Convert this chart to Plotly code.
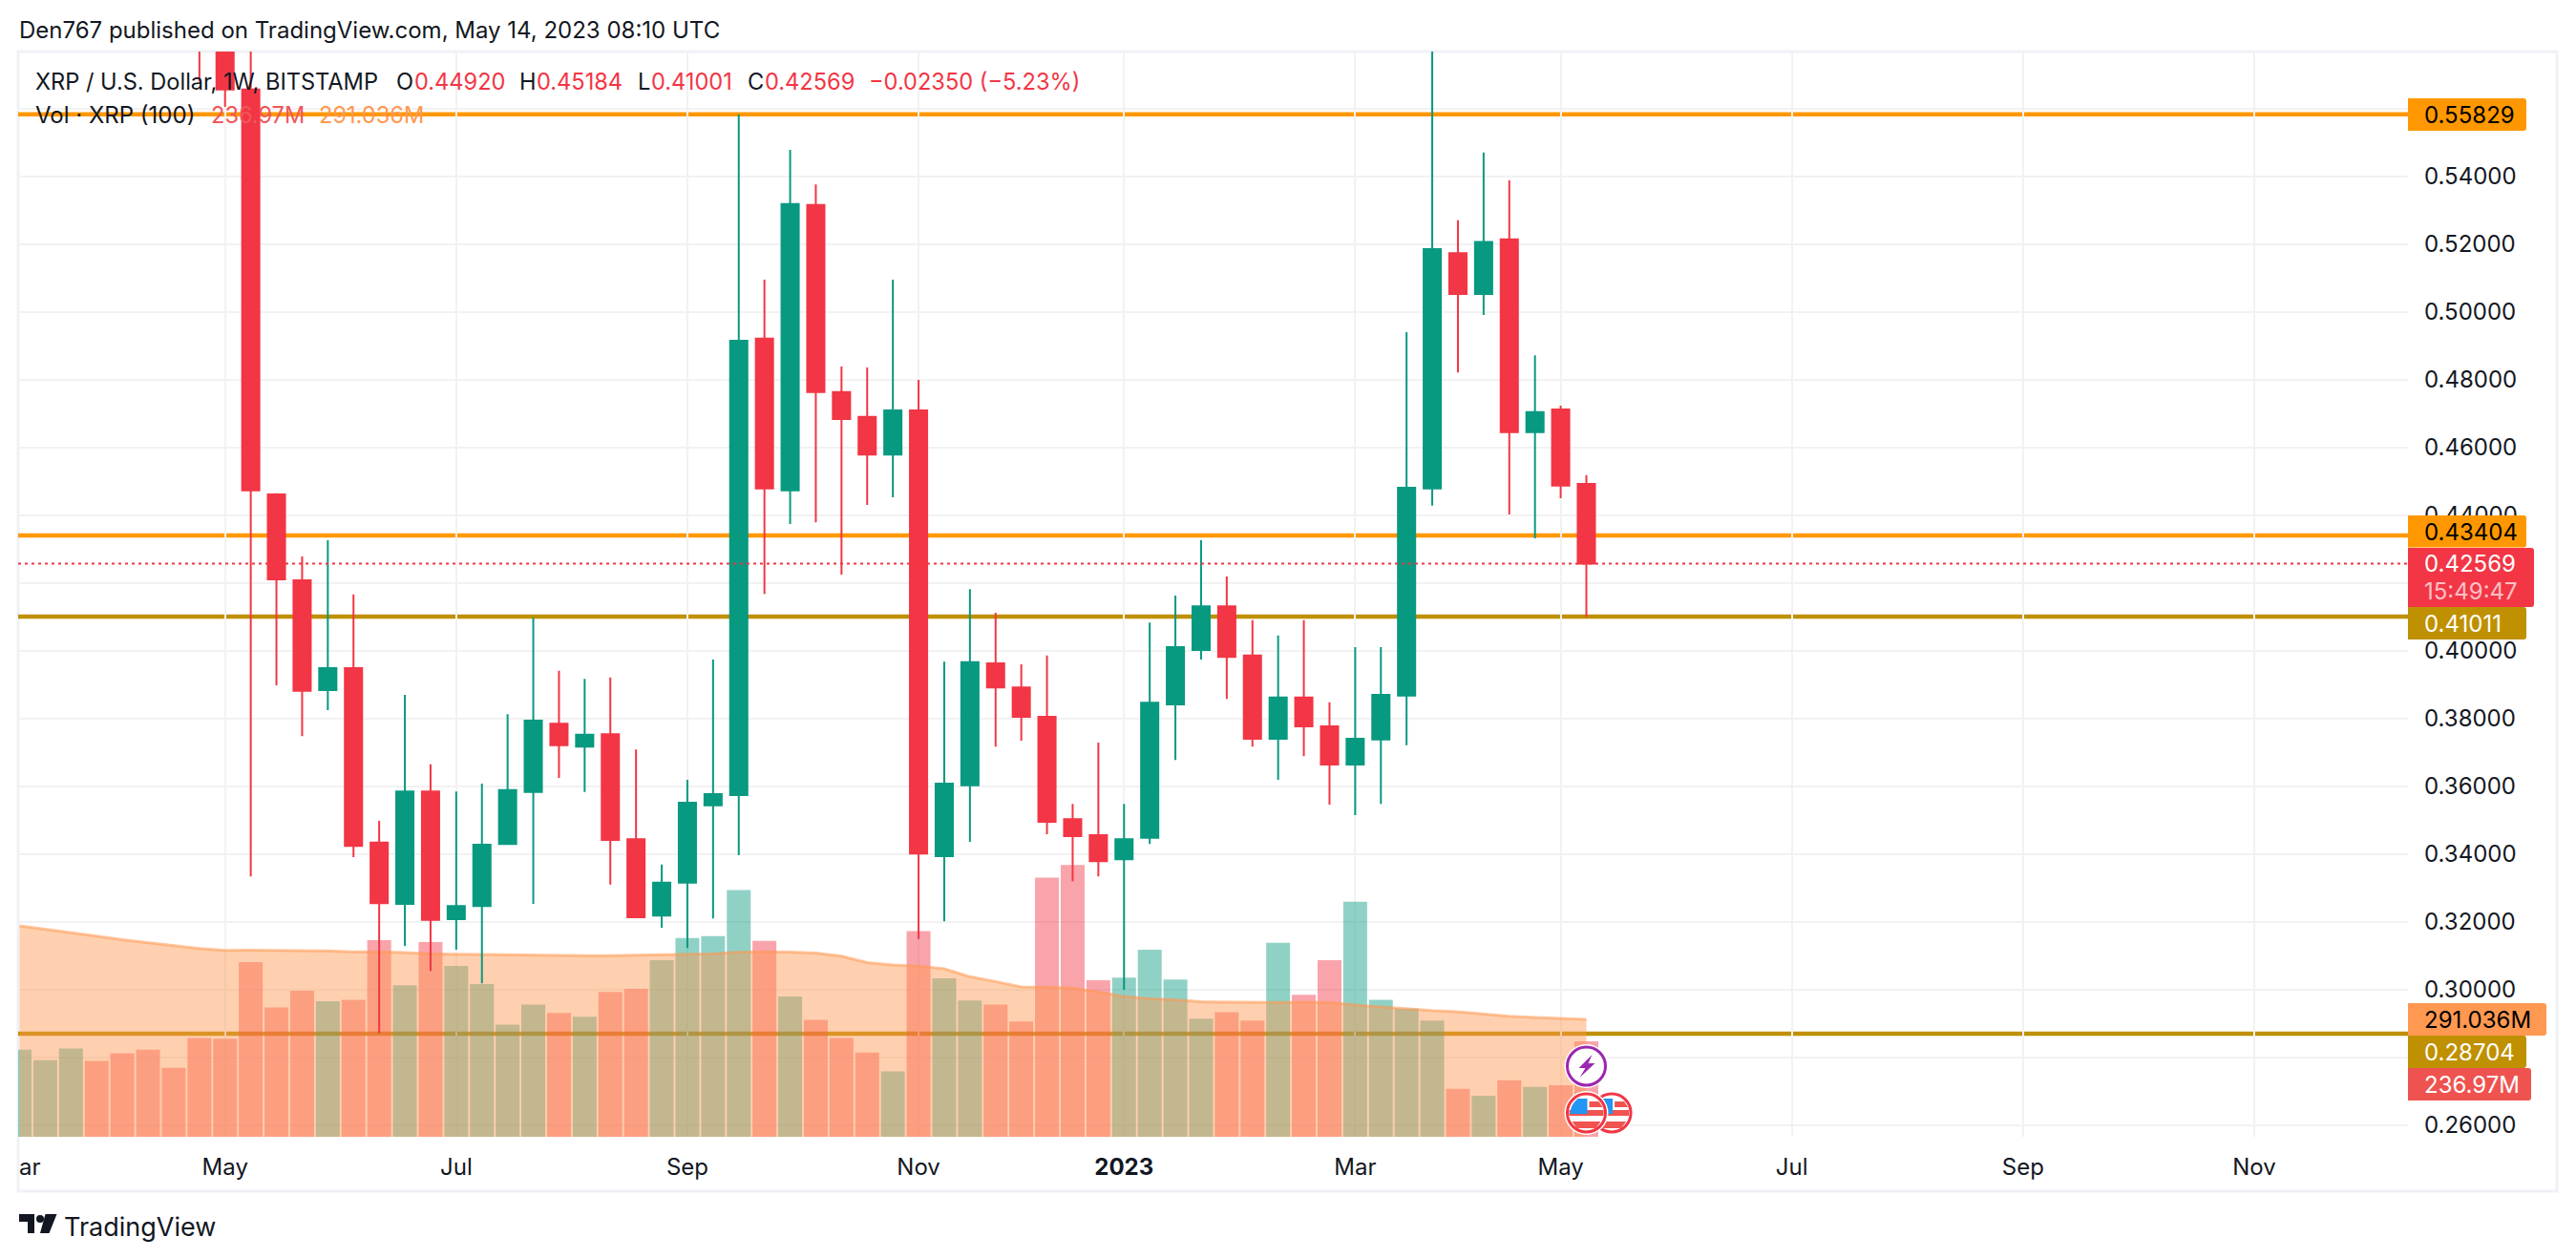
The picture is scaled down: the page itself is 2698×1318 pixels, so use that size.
import pandas as pd
import plotly.graph_objects as go

# ---------- data ----------
opens  = [.64,.62,.5656,.4461,.4208,.3884,.3949,.3434,.3253,.3585,.3208,.3247,.3430,.3583,.3785,.3717,.3754,.3444,.3219,.3316,.3544,.3574,.4921,.4473,.5315,.4763,.4690,.4579,.4709,.3394,.3603,.3963,.3892,.3805,.3503,.3456,.3385,.3448,.3842,.4002,.4131,.3986,.3740,.3862,.3777,.3664,.3738,.3868,.4479,.5173,.5053,.5214,.4645,.4712,.44920]
highs  = [.66,.65,.60,.4465,.4278,.4326,.4166,.3498,.3870,.3665,.3585,.3608,.3813,.4097,.3941,.3917,.3921,.3709,.3369,.3619,.3974,.5583,.5095,.5478,.5376,.4839,.4836,.5095,.4799,.3968,.4182,.4112,.3960,.3986,.3548,.3729,.3548,.4083,.4163,.4326,.4219,.4090,.4045,.4090,.3848,.4011,.4011,.4940,.5848,.5270,.5470,.5388,.4872,.4723,.45184]
lows   = [.568,.5605,.3334,.3898,.3748,.3825,.3391,.2871,.3129,.3055,.3118,.3019,.3428,.3253,.3625,.3583,.3310,.3214,.3183,.3123,.3210,.3397,.4168,.4374,.4379,.4225,.4430,.4453,.3150,.3202,.3436,.3717,.3735,.3459,.3320,.3334,.3000,.3430,.3678,.3974,.3858,.3717,.3619,.3689,.3546,.3515,.3548,.3721,.4428,.4821,.4991,.4402,.4332,.4450,.41001]
closes = [.62,.5656,.4473,.4211,.3882,.3949,.3424,.3255,.3585,.3206,.3247,.3428,.3589,.3794,.3721,.3752,.3442,.3214,.3316,.3552,.3577,.4915,.4479,.5318,.4763,.4684,.4579,.4709,.3402,.3608,.3966,.3892,.3805,.3495,.3453,.3379,.3444,.3847,.4011,.4131,.3982,.3740,.3862,.3777,.3664,.3740,.3870,.4481,.5185,.5053,.5206,.4645,.4704,.4487,.42569]
candle_start = "2022-04-25"

volumes = [216,190,219,188,207,216,171,245,243,433,321,362,336,340,488,376,483,424,379,278,328,307,298,359,367,438,493,498,612,486,348,290,245,209,162,510,393,338,328,286,643,674,388,395,464,390,293,309,288,481,352,438,583,340,318,288,119,102,140,124,128,236.97]
vol_dirs = list("uuud" "dddd" "ddddu" "ddud" "uuuu" "duddu" "uuud" "udddu" "duud" "dddd" "uuuud" "dudd" "uuuu" "dudu" "dd")
vol_ma = [523,515,506,498,489,482,474,467,462,463,462,462,461,459,459,457,454,453,452,451,451,450,449,449,450,451,453,454,458,459,458,456,448,432,426,423,417,397,385,372,371,369,359,348,343,340,335,334,333,333,334,333,327,322,317,313,310,305,299,296,294,291.036]
vol_start = "2022-03-07"

level_orange = [0.55829, 0.43404]
level_gold = [0.41011, 0.28704]
last_price = 0.42569
price_ticks = [.26,.28,.30,.32,.34,.36,.38,.40,.42,.44,.46,.48,.50,.52,.54,.56]
price_tick_labels = ["0.26000","0.28000","0.30000","0.32000","0.34000","0.36000","0.38000","0.40000","","0.44000","0.46000","0.48000","0.50000","0.52000","0.54000",""]
price_tick_labels[1] = ""
month_ticks = ["2022-05-02","2022-07-04","2022-09-05","2022-11-07","2023-01-02","2023-03-06","2023-05-01","2023-07-03","2023-09-04","2023-11-06"]
month_labels = ["May","Jul","Sep","Nov","<b>2023</b>","Mar","May","Jul","Sep","Nov"]

# ---------- style ----------
UP, DOWN = "#089981", "#F23645"
ORANGE, GOLD = "#FF9800", "#BF9000"
MAC = "#FF9850"
INK = "#131722"
GRID = "#F2F2F3"
FONT = "Inter"
W, H = 2698, 1318
L, R, T, B = 19, 2522, 54, 1191
X0, X1 = "2022-03-06 14:30", "2023-12-17 22:00"
def px(x): return (x - L) / (R - L)
def py(y): return (B - y) / (B - T)

cd = pd.date_range(candle_start, periods=len(opens), freq="7D")
vd = pd.date_range(vol_start, periods=len(volumes), freq="7D")
vc = ["rgba(8,153,129,0.45)" if d == "u" else "rgba(242,54,69,0.45)" for d in vol_dirs]

fig = go.Figure()
fig.add_bar(x=vd, y=volumes, marker_color=vc, marker_line_width=0, yaxis="y", xaxis="x", showlegend=False)
fig.add_scatter(x=vd, y=vol_ma, mode="lines", line=dict(color="rgba(255,152,80,0.55)", width=3), fill="tozeroy",
                fillcolor="rgba(255,152,80,0.46)", yaxis="y", xaxis="x", showlegend=False)
fig.add_candlestick(x=cd, open=opens, high=highs, low=lows, close=closes, yaxis="y2", xaxis="x", showlegend=False,
                    increasing=dict(line=dict(color=UP, width=2), fillcolor=UP),
                    decreasing=dict(line=dict(color=DOWN, width=2), fillcolor=DOWN), whiskerwidth=0)

shapes, ann = [], []
def txt(x, y, s, color=INK, size=24, anchor="left"):
    ann.append(dict(xref="paper", yref="paper", x=px(x), y=py(y), text=s, showarrow=False, xanchor=anchor, yanchor="middle",
                    font=dict(family=FONT, size=size, color=color), borderpad=0))

# frame
shapes.append(dict(type="rect", xref="paper", yref="paper", x0=px(L), x1=px(2678), y0=py(T), y1=py(1248),
                   line=dict(color="#F0F1F6", width=3), layer="below"))
# levels, below the volume pane and the candles
for v in level_orange:
    shapes.append(dict(type="line", xref="x", yref="y2", x0=X0, x1=X1, y0=v, y1=v, line=dict(color=ORANGE, width=4.5), layer="below"))
for v in level_gold:
    shapes.append(dict(type="line", xref="x", yref="y2", x0=X0, x1=X1, y0=v, y1=v, line=dict(color=GOLD, width=4.5), layer="below"))
shapes.append(dict(type="line", xref="x", yref="y2", x0=X0, x1=X1, y0=last_price, y1=last_price,
                   line=dict(color=DOWN, width=2, dash="3px,4px"), layer="above"))

def label(top, bottom, width, color):
    r = 3
    h = bottom - top
    p = f"M0 0 L{width-r} 0 Q{width} 0 {width} {r} L{width} {h-r} Q{width} {h} {width-r} {h} L0 {h} Z"
    shapes.append(dict(type="path", xref="paper", yref="paper", xsizemode="pixel", ysizemode="pixel",
                       xanchor=1, yanchor=py(bottom), path=p, fillcolor=color, line_width=0, layer="above"))

label(103, 137, 124, ORANGE);     txt(2538, 120, f"{level_orange[0]:.5f}", "#000000")
label(540, 573.5, 124, ORANGE);   txt(2538, 557, f"{level_orange[1]:.5f}", "#000000")
label(574, 636, 132, DOWN);       txt(2538, 590, f"{last_price:.5f}", "#FFFFFF"); txt(2538, 619, "15:49:47", "rgba(255,255,255,0.7)")
label(636, 670, 124, GOLD);       txt(2538, 653, f"{level_gold[0]:.5f}", "#FFFFFF")
label(1051, 1085, 145, MAC);      txt(2538, 1068, f"{vol_ma[-1]:.3f}M", "#000000")
label(1085, 1119, 124, GOLD);     txt(2538, 1102, f"{level_gold[1]:.5f}", "#FFFFFF")
label(1119, 1153, 129, "#EF5350"); txt(2538, 1136, f"{volumes[-1]:.2f}M", "#FFFFFF")

# event badges at the last bar
def badge(date, yc, ring, kind):
    base = dict(xref="x", yref="paper", xsizemode="pixel", ysizemode="pixel", xanchor=date, yanchor=py(yc), layer="above")
    shapes.append(dict(type="circle", x0=-23, x1=23, y0=-23, y1=23, fillcolor="#FFFFFF", line_width=0, **base))
    shapes.append(dict(type="circle", x0=-20, x1=20, y0=-20, y1=20, fillcolor="#FFFFFF", line=dict(color=ring, width=3), **base))
    if kind == "bolt":
        shapes.append(dict(type="path", path="M6 12 L-8 -2 L-1 -2 L-7 -12 L9 3 L2 3 Z", fillcolor=ring, line_width=0, **base))
    else:
        shapes.append(dict(type="path", path="M3 12 L13 12 L17 6 L3 6 Z M-18 3 L18 3 L18 -3 L-18 -3 Z M-15 -9 L15 -9 L10 -16 L-10 -16 Z", fillcolor="#F05350", line_width=0, **base))
        shapes.append(dict(type="path", path="M-17 -1 L1 -1 L1 15 L-9 15 Q-17 8 -17 -1 Z", fillcolor="#2196F3", line_width=0, **base))
last = str(cd[-1].date())
badge("2023-05-14 22:00", 1166, DOWN, "flag")
badge(last, 1166, DOWN, "flag")
badge(last, 1117, "#9C27B0", "bolt")

# logo
def poly(p, color=INK):
    return dict(type="path", xref="paper", yref="paper", xsizemode="pixel", ysizemode="pixel", xanchor=px(20), yanchor=py(1292), path=p, fillcolor=color, line_width=0, layer="above")
shapes.append(poly("M0 20 L16 20 L16 0 L9 0 L9 12 L0 12 Z"))
shapes.append(poly("M22 0 L31.5 0 L39.5 20 L27.5 20 Z"))
shapes.append(dict(type="circle", xref="paper", yref="paper", xsizemode="pixel", ysizemode="pixel", xanchor=px(42), yanchor=py(1277), x0=-4, x1=4, y0=-4, y1=4, fillcolor=INK, line_width=0, layer="above"))
txt(66, 1285, "TradingView", INK, 27)

# header / legends
LEG = 23.6
txt(19, 31, "Den767 published on TradingView.com, May 14, 2023 08:10 UTC", INK, 24)
txt(36, 86, "XRP / U.S. Dollar, 1W, BITSTAMP", INK, LEG)
for x, s in [(414,"O"),(543,"H"),(667,"L"),(782,"C")]:
    txt(x, 86, s, INK, LEG)
for x, s in [(433,"0.44920"),(561,"0.45184"),(681,"0.41001"),(800,"0.42569"),(909,"−0.02350 (−5.23%)")]:
    txt(x, 86, s, DOWN, LEG)
txt(36, 120, "Vol · XRP (100)", INK, 24)
txt(220, 120, "236.97M", "#F0565C", LEG)
txt(333, 120, "291.036M", MAC, LEG)
txt(19, 1222, "ar", INK, 24)

fig.update_layout(
    width=W, height=H, margin=dict(l=L, r=W-R, t=T, b=H-B), paper_bgcolor="#FFFFFF", plot_bgcolor="#FFFFFF",
    bargap=0.07, boxgap=0.33, boxgroupgap=0, shapes=shapes, annotations=ann, showlegend=False,
    font=dict(family=FONT, size=24, color=INK),
    xaxis=dict(type="date", range=[X0, X1], rangeslider_visible=False, tickmode="array",
               tickvals=month_ticks, ticktext=month_labels, showgrid=True, gridcolor=GRID, gridwidth=2, ticks="",
               showline=False, zeroline=False, ticklabelstandoff=15, tickfont=dict(size=24, color=INK, family=FONT)),
    yaxis=dict(range=[0, 2692], visible=False, showgrid=False, zeroline=False),
    yaxis2=dict(overlaying="y", side="right", range=[0.2566, 0.5768], tickmode="array", tickvals=price_ticks, ticktext=price_tick_labels,
                showgrid=True, gridcolor=GRID, gridwidth=2, zeroline=False, showline=False, ticks="", ticklabelstandoff=16,
                tickfont=dict(size=24, color=INK, family=FONT)),
)
fig.write_html("out.html", config=dict(displayModeBar=False),
               post_script="document.body.style.margin='0';document.documentElement.style.overflow='hidden';")
